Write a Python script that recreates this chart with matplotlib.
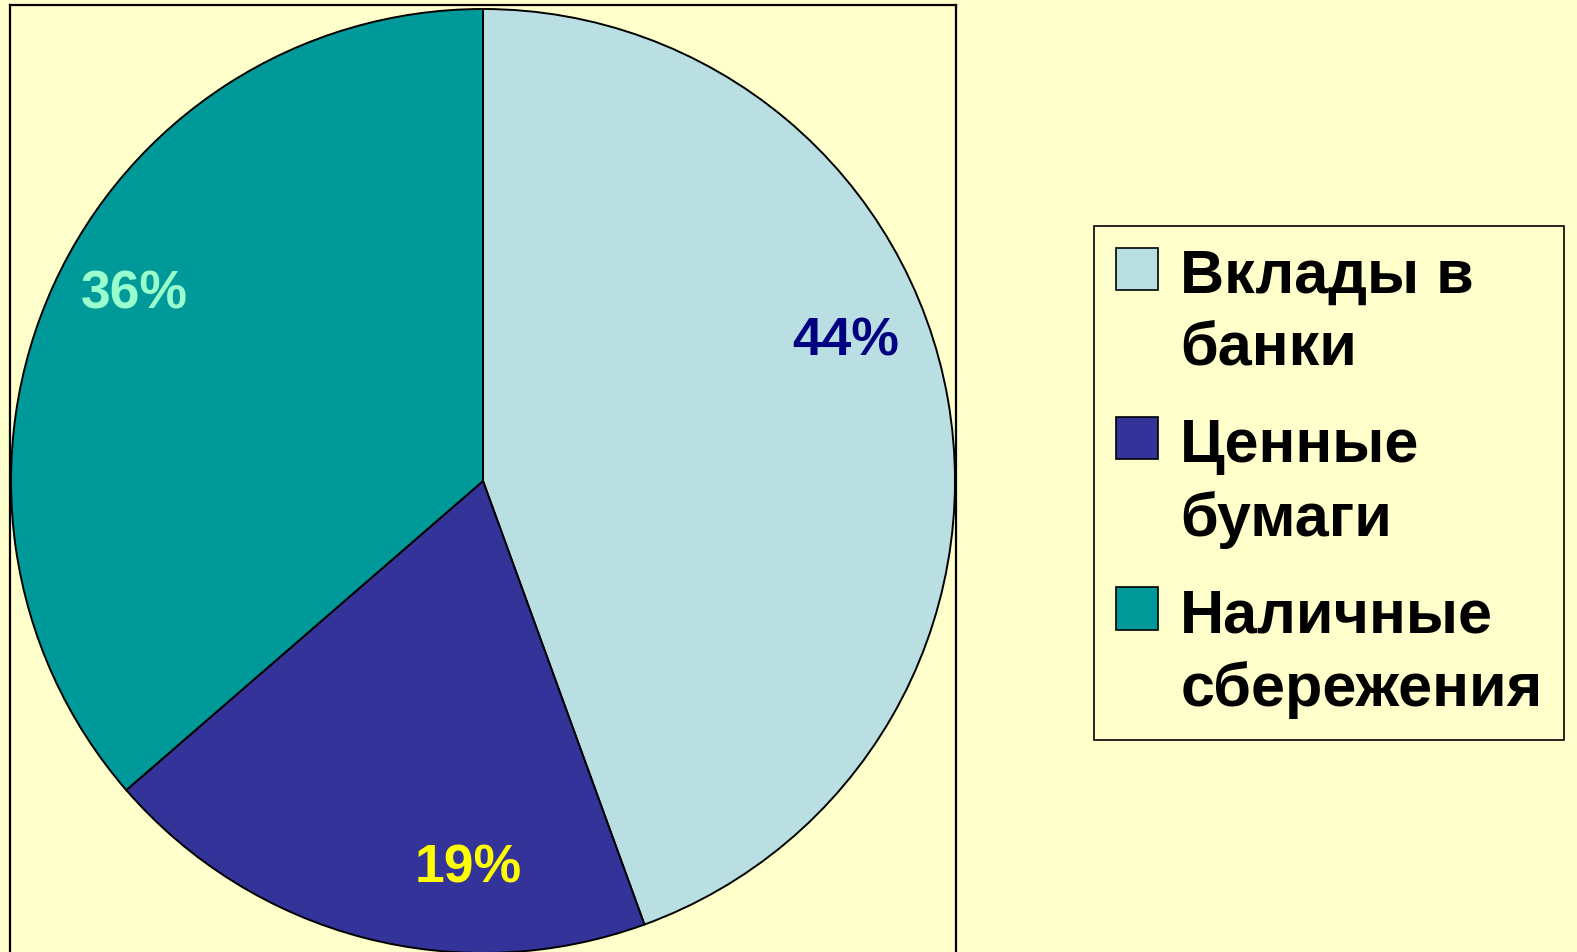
import matplotlib
matplotlib.use("Agg")
import matplotlib.pyplot as plt

plt.rcParams["font.family"] = ["Liberation Sans", "DejaVu Sans"]

# data
categories = ["Вклады в\nбанки", "Ценные\nбумаги", "Наличные\nсбережения"]
shares = [44, 19, 36]
slice_colors = ["#B9DFE3", "#333399", "#009999"]
pct_colors = ["#000080", "#FFFF00", "#99FFCC"]

# label placement (angle clockwise from top in degrees, radius in px)
pct_angles = [68.8, 182.2, 298.2]
pct_radius = [389, 387, 396]

W, H = 1577, 953
BG = "#FFFFCC"


def main():
    import numpy as np

    fig = plt.figure(figsize=(W / 100, H / 100), dpi=100, facecolor=BG)

    # plot area box, axis units = pixels (y measured upward)
    top_px, bot_px, left_px, right_px = 6, 962, 10, 956
    ax = fig.add_axes([left_px / W, (H - bot_px) / H,
                       (right_px - left_px) / W, (bot_px - top_px) / H])
    ax.set_facecolor(BG)

    cx, cy, r = 483, H - 482, 472
    wedges, texts, autotexts = ax.pie(
        shares, colors=slice_colors, startangle=90, counterclock=False,
        center=(cx, cy), radius=r, frame=True, autopct="%.0f%%",
        wedgeprops=dict(edgecolor="black", linewidth=1.4),
        textprops=dict(fontsize=38.5, fontweight="bold"))

    for t, c, a, rr in zip(autotexts, pct_colors, pct_angles, pct_radius):
        t.set_color(c)
        th = np.deg2rad(a)
        t.set_position((cx + rr * np.sin(th), cy + rr * np.cos(th)))

    ax.set_aspect("auto")
    ax.set_xlim(left_px, right_px)
    ax.set_ylim(H - bot_px, H - top_px)
    ax.set_xticks([])
    ax.set_yticks([])
    for s in ax.spines.values():
        s.set_linewidth(1.6)
        s.set_color("black")

    leg = fig.legend(wedges, categories, loc="center left",
                     bbox_to_anchor=(1094 / W, 1 - 484 / H),
                     prop=dict(weight="bold", size=44),
                     frameon=True, fancybox=False, edgecolor="black",
                     facecolor=BG, framealpha=1, borderpad=0.36,
                     borderaxespad=0,
                     handlelength=0.69, handleheight=0.69,
                     handletextpad=0.36, labelspacing=0.65)
    leg.get_frame().set_linewidth(1.2)
    for t in leg.get_texts():
        t.set_linespacing(1.35)
    # put the colour square next to the first line of each label
    for col in leg._legend_handle_box.get_children():
        for row in col.get_children():
            row.align = "top"
    for p in leg.get_patches():
        p.set_edgecolor("black")
        p.set_linewidth(1.2)

    fig.savefig("out.png", dpi=100, facecolor=BG)
    plt.close(fig)


if __name__ == "__main__":
    main()
